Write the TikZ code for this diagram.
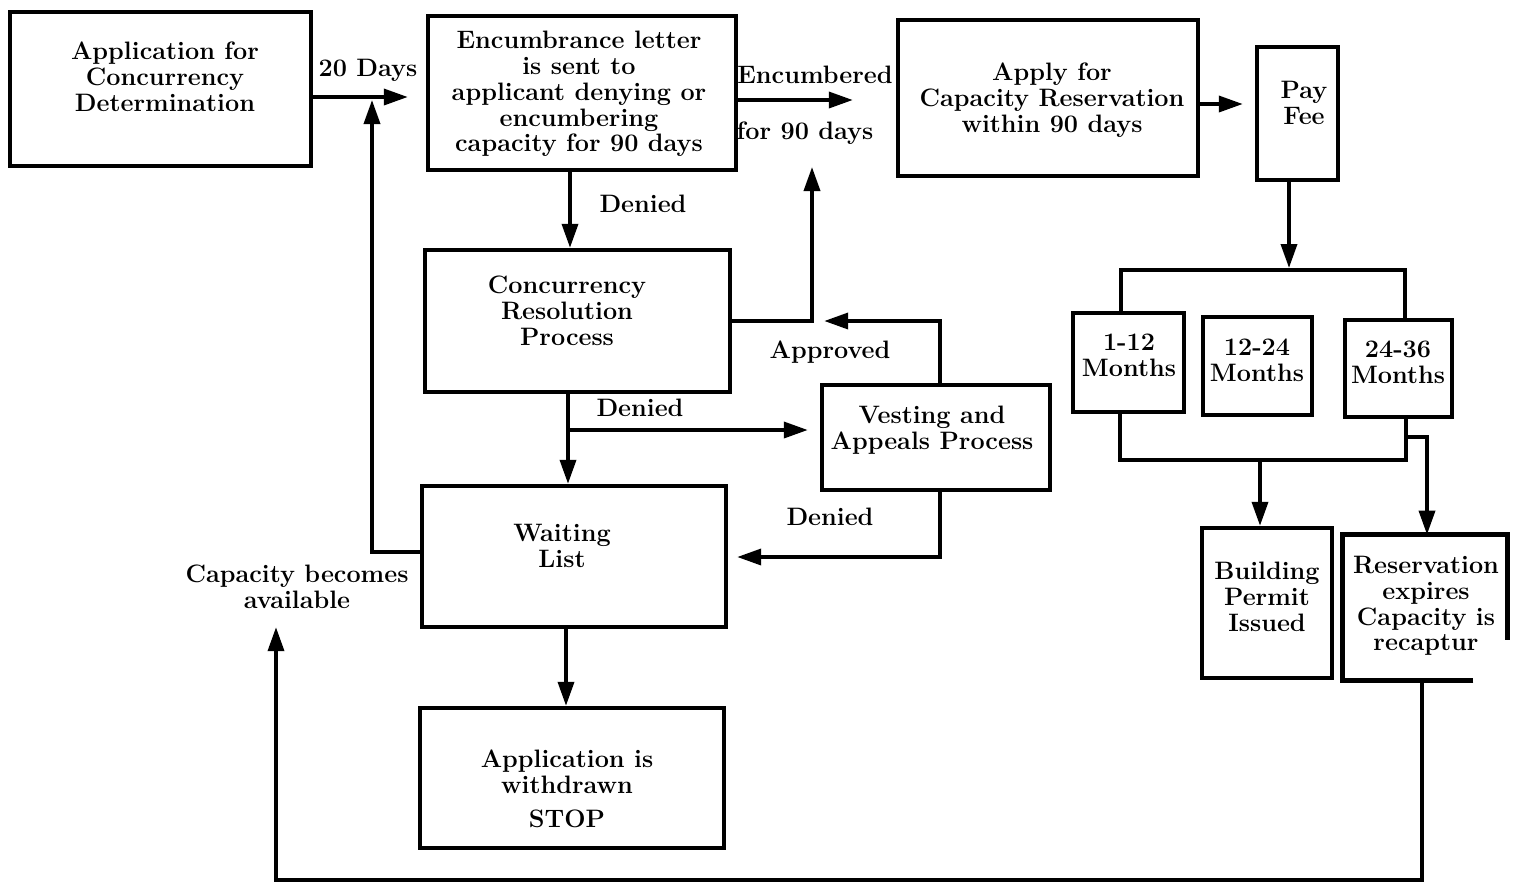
\documentclass[tikz,border=0pt]{standalone}
\usepackage{fontspec}
\usetikzlibrary{arrows.meta}
\begin{document}
\begin{tikzpicture}[x=0.5pt,y=-0.5pt,
  box/.style={draw, line width=2.2pt, rectangle, inner sep=0pt},
  txt/.style={align=center, inner sep=1pt, font=\fontsize{12.6}{12.9}\selectfont\bfseries},
  lab/.style={inner sep=1pt, align=center, font=\fontsize{12.6}{12.9}\selectfont\bfseries},
  con/.style={line width=1.8pt},
  arr/.style={con, -{Triangle[length=12pt,width=8pt]}}]
\useasboundingbox (0,0) rectangle (1517,890);
% boxes
\node[box, minimum width=150.5pt, minimum height=77pt] (app) at (160.5,89) {};
\node[box, minimum width=154pt, minimum height=77pt] (enc) at (582,93) {};
\node[box, minimum width=150pt, minimum height=78pt] (apply) at (1048,98) {};
\node[box, minimum width=40.5pt, minimum height=66.5pt] (pay) at (1297.5,113.5) {};
\node[box, minimum width=152.5pt, minimum height=71pt] (crp) at (577.5,321) {};
\node[box, minimum width=114pt, minimum height=52.5pt] (vest) at (936,437.5) {};
\node[box, minimum width=152pt, minimum height=70.5pt] (wait) at (574,556.5) {};
\node[box, minimum width=152pt, minimum height=70pt] (stop) at (572,778) {};
\node[box, minimum width=55.5pt, minimum height=49.5pt] (m1) at (1128.5,362.5) {};
\node[box, minimum width=54.5pt, minimum height=49pt] (m2) at (1257.5,366) {};
\node[box, minimum width=53.5pt, minimum height=48.5pt] (m3) at (1398.5,368.5) {};
\node[box, minimum width=65pt, minimum height=75pt] (bp) at (1267,603) {};
\node[rectangle, inner sep=0pt, minimum width=82pt, minimum height=72.5pt] (res) at (1425,607.5) {};
\draw[line width=2.2pt] ([xshift=-17pt]res.south east) -- (res.south west) -- (res.north west) -- (res.north east) -- ([yshift=20pt]res.south east);
% box texts
\node[txt] (tapp) at (165,77) {Application for\\Concurrency\\Determination};
\node[txt] (tenc) at (579,94) {Encumbrance letter\\is sent to\\applicant denying or\\encumbering\\capacity for 90 days};
\node[txt] (tapply) at (1052,100) {Apply for\\Capacity Reservation\\within 90 days};
\node[txt] (tpay) at (1304,103) {Pay\\Fee};
\node[txt] (tcrp) at (567,311) {Concurrency\\Resolution\\Process};
\node[txt] (tvest) at (932,430) {Vesting and\\Appeals Process};
\node[txt] (twait) at (562,546) {Waiting\\List};
\node[txt] (tstop) at (567,789) {Application is\\withdrawn\\[4pt]STOP};
\node[txt] (tm1) at (1129,355) {1-12\\Months};
\node[txt] (tm2) at (1257,360) {12-24\\Months};
\node[txt] (tm3) at (1398,362) {24-36\\Months};
\node[txt] (tbp) at (1267,597) {Building\\Permit\\Issued};
\node[txt] (tres) at (1426,606) {Reservation\\expires\\Capacity is\\recaptur};
\node[lab] (cap) at (297,587) {Capacity becomes\\available};
% labels
\node[lab] (l20) at (368,70) {20 Days};
\node[lab] (lenc) at (815,75) {Encumbered};
\node[lab] (l90) at (805,133) {for 90 days};
\node[lab] (lden1) at (643,204) {Denied};
\node[lab] (lapp) at (830,352) {Approved};
\node[lab] (lden2) at (640,408) {Denied};
\node[lab] (lden3) at (830,517) {Denied};
% junction coordinates
\coordinate (j1) at (372,97);
\coordinate (j2) at (568,430);
\coordinate (j3) at (1289,270);
\coordinate (j4) at (1260,460);
\coordinate (j5) at (1406,437);
\coordinate (up) at (812,167);
% connectors
\draw[arr, shorten >=9pt] (app.east |- 0,97) -- (enc.west |- 0,97);
\draw[arr, shorten >=1.5pt] (wait.west |- 0,552) -| (j1);
\draw[arr, shorten >=21.5pt] (enc.east |- 0,100) -- (apply.west |- 0,100);
\draw[arr, shorten >=6pt] (apply.east |- 0,104) -- (pay.west |- 0,104);
\draw[arr] (crp.east) -| (up);
\draw[arr] (enc.south -| 570,0) -- (crp.north -| 570,0);
\draw[arr, shorten >=46pt] (vest.north -| 940,0) |- (crp.east);
\draw[arr] (crp.south -| 568,0) -- (wait.north -| 568,0);
\draw[arr, shorten >=6pt] (j2) -- (vest.west |- j2);
\draw[arr, shorten >=4.5pt] (vest.south -| 940,0) |- (wait.east |- 0,557);
\draw[arr] (wait.south -| 566,0) -- (stop.north -| 566,0);
\draw[arr, shorten >=1pt] (pay.south -| j3) -- (j3);
\draw[con] (m1.north -| 1121,0) -- (1121,270) -- (1405,270) -- (m3.north -| 1405,0);
\draw[con] (m1.south -| 1120,0) -- (1120,460) -- (1406,460) -- (m3.south -| 1406,0);
\draw[arr] (j4) -- (bp.north -| j4);
\draw[arr] (j5) -| (res.north -| 1427,0);
\draw[arr, shorten >=8pt] (res.south -| 1422,0) -- (1422,880) -| (cap.south -| 276,0);
\end{tikzpicture}
\end{document}
